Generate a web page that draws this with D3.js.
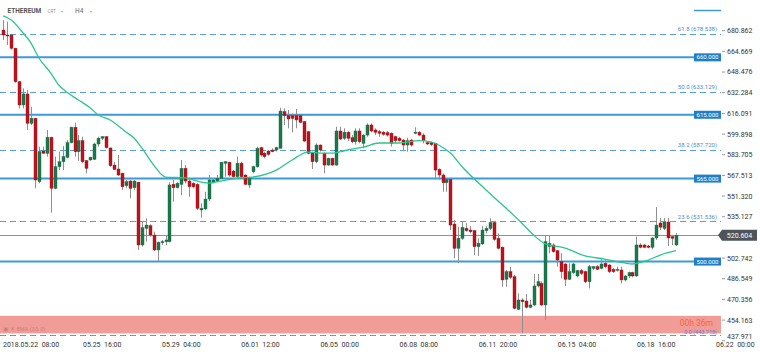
<!DOCTYPE html>
<html><head><meta charset="utf-8">
<script src="https://cdn.jsdelivr.net/npm/d3@7"></script>
<style>
html,body{margin:0;padding:0;background:#fff;}
svg{display:block;font-family:"Roboto","Liberation Sans",Arial,sans-serif;}
</style></head>
<body>
<svg id="chart" width="760" height="354"></svg>
<script>
// ---- DATA ----
const symbol = "ETHEREUM";
const timeframe = "H4";
// candles: [open, high, low, close] (H4 bars, consecutive)
const ohlc = [
[681.4,689.0,673.6,677.5],[677.5,687.9,669.6,677.0],[677.5,678.3,666.0,667.1],[667.1,667.5,640.0,640.9],
[640.9,641.5,620.0,622.7],[622.7,635.7,620.1,631.3],[631.3,634.4,603.1,608.3],[608.3,621.3,607.0,612.2],
[612.2,612.5,557.4,563.9],[562.6,590.0,561.3,586.1],[586.6,590.0,584.5,584.8],[584.8,603.1,582.2,597.3],
[597.3,597.8,538.3,557.4],[557.4,582.2,556.6,574.3],[574.3,586.1,571.7,578.2],[578.2,590.5,571.7,582.2],
[581.7,595.2,580.9,593.1],[593.1,605.7,592.6,605.2],[605.2,608.8,582.2,586.1],[586.1,599.1,579.0,594.7],
[594.7,597.8,576.9,578.2],[579.0,579.6,569.1,573.0],[579.6,582.2,579.0,581.7],[580.1,593.1,579.6,592.1],
[592.1,597.8,590.0,596.6],[596.6,598.4,595.2,597.8],[597.8,598.4,588.7,589.2],[589.0,589.2,574.3,575.1],
[575.6,578.2,571.7,572.2],[572.5,583.5,567.0,567.8],[569.1,569.6,556.1,558.6],[559.4,563.9,557.4,562.6],
[563.1,563.9,549.5,557.4],[557.9,563.9,556.1,563.1],[562.1,562.6,509.1,513.0],[513.0,531.2,511.7,526.5],
[526.0,533.9,515.6,528.6],[528.1,529.2,519.5,520.8],[520.8,523.4,508.3,509.1],[509.1,515.6,499.9,515.1],
[515.1,516.9,513.0,515.6],[515.6,520.3,513.0,516.9],[515.6,562.1,515.0,560.0],[560.5,563.9,546.9,557.9],
[557.9,562.1,557.4,561.3],[560.5,579.6,552.1,573.0],[573.0,575.6,561.3,563.1],[563.1,565.2,550.8,558.6],
[561.3,562.1,557.4,558.6],[560.5,561.3,540.4,541.7],[540.4,545.6,534.4,541.7],[541.2,554.7,540.4,549.0],
[549.0,567.8,547.5,563.9],[562.1,565.2,561.3,563.9],[563.1,567.8,562.6,565.2],[565.2,578.2,564.7,577.8],
[577.0,578.7,566.5,578.2],[577.8,578.2,566.5,567.8],[570.9,571.7,565.7,566.5],[566.5,582.2,565.2,577.0],
[577.0,578.2,565.2,566.5],[567.8,568.3,560.0,560.5],[560.0,566.5,557.4,565.7],[570.4,575.1,569.1,574.3],
[574.3,590.0,573.5,588.7],[589.2,590.0,582.2,583.5],[584.8,586.1,580.9,582.2],[586.6,587.4,582.9,584.0],
[587.4,588.7,585.6,586.1],[587.4,590.0,586.1,589.2],[588.7,620.5,588.7,617.9],[617.4,620.0,607.0,614.3],
[614.3,618.7,604.4,611.7],[614.3,616.1,601.2,612.2],[614.3,619.5,604.4,610.9],[614.3,614.8,608.3,609.1],
[609.6,610.1,593.9,594.4],[601.7,602.3,584.0,584.8],[585.6,586.1,572.5,578.2],[578.2,592.6,576.9,591.3],
[591.3,591.8,586.1,587.4],[584.8,585.6,569.1,575.6],[575.6,581.4,575.1,580.9],[580.9,581.4,575.1,575.6],
[575.6,605.7,575.1,602.3],[602.3,605.7,595.2,596.0],[596.6,604.4,595.2,601.3],[601.3,602.3,594.4,596.6],
[597.0,599.1,592.6,593.9],[593.9,604.4,591.8,602.3],[602.3,604.4,592.6,593.9],[592.6,599.7,588.7,599.1],
[599.1,608.3,597.8,607.0],[607.0,608.3,601.2,602.3],[603.1,604.4,599.1,601.3],[601.7,603.1,597.8,600.5],
[601.3,602.3,598.6,599.7],[600.9,602.3,598.0,599.1],[600.5,601.2,590.0,592.6],[597.8,598.6,592.6,594.7],
[596.6,597.8,593.9,594.7],[595.2,596.0,586.9,591.3],[591.3,597.0,586.1,594.7],[595.2,596.0,590.0,591.3],
[600.5,605.2,599.7,601.3],[601.3,602.3,598.3,599.1],[599.1,600.5,592.6,594.7],[593.1,593.9,591.3,592.1],
[593.1,594.0,590.5,591.7],[592.6,593.1,565.2,571.7],[572.2,573.0,564.4,567.8],[567.8,569.1,554.7,561.8],
[561.8,564.9,554.7,564.4],[564.4,564.4,524.7,528.6],[529.4,532.6,502.6,510.4],[510.4,527.3,498.6,518.2],
[518.2,531.2,516.9,526.8],[526.0,530.0,523.4,524.2],[524.7,527.8,522.1,523.4],[524.2,524.7,505.1,511.7],
[511.7,518.2,504.4,514.3],[513.8,527.8,513.0,524.7],[524.2,527.8,522.1,526.0],[526.0,533.9,524.7,530.5],
[530.5,531.2,516.3,517.4],[518.2,522.1,509.6,510.4],[511.2,511.7,480.3,485.6],[486.1,493.4,480.3,492.1],
[492.1,496.0,486.1,487.7],[488.1,489.5,462.6,463.4],[462.6,475.1,462.1,469.9],[469.9,471.2,443.8,468.6],
[469.1,474.6,463.4,464.2],[464.2,469.9,463.4,466.0],[466.0,490.3,465.2,480.9],[480.9,490.3,479.8,484.3],
[483.0,484.5,465.0,466.0],[466.0,520.8,454.2,515.6],[511.7,520.8,506.5,514.3],[513.0,514.3,507.0,507.8],
[508.5,509.1,496.0,501.2],[500.0,506.5,486.9,492.1],[498.1,498.6,480.9,486.1],[486.1,498.6,485.6,492.1],
[491.3,499.1,490.3,498.1],[488.7,493.4,487.7,492.9],[492.9,494.0,489.5,490.8],[492.1,492.9,483.0,484.2],
[484.2,497.3,479.0,496.0],[494.7,496.5,493.4,496.0],[496.0,497.3,493.4,494.0],[494.7,501.8,493.9,498.1],
[498.6,501.2,494.7,496.0],[497.3,498.1,490.8,492.1],[493.9,495.0,491.0,492.1],[493.4,496.0,492.1,493.9],
[493.4,496.0,483.0,485.6],[485.6,489.5,484.3,488.7],[488.7,492.1,486.9,491.3],[491.3,492.1,487.7,488.7],
[488.7,519.5,488.1,513.0],[513.0,514.3,510.4,511.2],[513.0,513.5,510.4,511.2],[512.2,513.0,510.4,511.2],
[511.2,518.9,509.6,518.5],[518.5,542.7,516.9,528.6],[530.2,534.1,524.7,527.0],[526.0,534.1,524.7,531.0],
[531.0,534.1,512.2,518.5],[519.5,520.8,513.0,518.2],[513.0,522.3,512.2,520.6]
];
// EMA(33): [bar index, value]
const emaPoints = [
[0,692.4],[2,689.2],[5,679.1],[7,671.2],[9,659.5],[12,647.7],[14,638.3],[16,632.8],[19,626.6],
[22,620.3],[24,614.8],[27,610.9],[31,601.5],[33,596.8],[35,589.0],[38,575.6],[41,566.2],[46,565.5],
[50,562.3],[52,561.5],[55,563.1],[60,565.5],[63,566.2],[69,571.7],[73,579.6],[77,585.8],[81,585.0],
[83,585.0],[87,587.4],[91,589.7],[95,592.9],[100,592.9],[105,594.7],[108,593.7],[110,591.3],
[113,585.0],[116,574.1],[122,556.1],[127,542.0],[131,530.2],[134,520.8],[137,513.8],[142,510.6],
[147,504.4],[152,502.0],[157,498.9],[159,498.1],[163,501.2],[166,505.1],[170,508.5]
];
const xTickLabels = ["2018.05.22  08:00","05.25  16:00","05.29  04:00","06.01  12:00","06.05  00:00",
  "06.08  08:00","06.11  20:00","06.15  04:00","06.18  16:00","06.22  00:00"];
const xTickBars = [5,25,45,65,85,105,125,145,165,185];
const yTicks = [680.862,664.669,648.476,632.284,616.091,599.898,583.705,567.513,551.320,535.127,
  518.934,502.742,486.549,470.356,454.163,437.971];
const levels = [660, 615, 565, 500];
const fibPct = ["61.8","50.0","38.2","23.6","0.0"];
const fibVal = [678.538, 633.129, 587.720, 531.536, 443.718];
const lastPrice = 520.604;
const zone = [443.718, 457.5];
const countdown = "00h 36m";
const indicatorLabel = "\u25A3 \u2715 EMA (33, 0)";

// ---- SCALES ----
const svg = d3.select("#chart");
const plotRight = 721;
const x = d3.scaleLinear().domain([0, ohlc.length - 1]).range([3.3, 676]);
const y = d3.scaleLinear().domain([437.971, 680.862]).range([340.75, 30.7]);
const fmt = d3.format(".3f");

const plot = svg.append("g");

// zone band
plot.append("rect").attr("x", 0).attr("width", plotRight)
  .attr("y", y(zone[1])).attr("height", y(zone[0]) - y(zone[1]))
  .attr("fill", "#f29c98");

// fib dashed lines
fibVal.forEach((v, i) => {
  const last = i === fibVal.length - 1;
  const ly = Math.round(y(v)) + (last ? 2.5 : 0.5);
  plot.append("line").attr("x1", 0).attr("x2", plotRight)
    .attr("y1", ly).attr("y2", ly)
    .attr("stroke", "#5b9fd8").attr("stroke-width", 1).attr("stroke-dasharray", "6,4");
  plot.append("text").attr("x", 717).attr("y", last ? ly - 2 : y(v) - 2.5)
    .attr("text-anchor", "end").attr("font-size", last ? 5.5 : 6)
    .attr("fill", last ? "#6a78c8" : "#4f8cc9")
    .text(fibPct[i] + " (" + fmt(v) + ")");
});

// solid levels
levels.forEach(v => {
  plot.append("line").attr("x1", 0).attr("x2", plotRight)
    .attr("y1", y(v)).attr("y2", y(v))
    .attr("stroke", "#3d9ad8").attr("stroke-width", 2);
});

// last price line
plot.append("line").attr("x1", 0).attr("x2", plotRight)
  .attr("y1", Math.round(y(lastPrice)) + 0.5).attr("y2", Math.round(y(lastPrice)) + 0.5)
  .attr("stroke", "#8a9396").attr("stroke-width", 1);

// candles
const cg = plot.append("g");
const bw = 3;
ohlc.forEach((d, i) => {
  const [o, h, l, c] = d;
  const cx = Math.round(x(i)) + 0.5;
  const up = c >= o;
  cg.append("line").attr("x1", cx).attr("x2", cx).attr("y1", y(h)).attr("y2", y(l))
    .attr("stroke", "#8f8f8f").attr("stroke-width", 1);
  const top = y(Math.max(o, c)), bot = y(Math.min(o, c));
  cg.append("rect").attr("x", cx - bw / 2).attr("width", bw)
    .attr("y", top).attr("height", Math.max(1, bot - top))
    .attr("fill", up ? "#1a7a4c" : "#c1121c")
    .attr("stroke", up ? "#17603d" : "#8e0f14").attr("stroke-width", 0.4);
});

// EMA
plot.append("path").datum(emaPoints)
  .attr("d", d3.line().x(d => x(d[0])).y(d => y(d[1])).curve(d3.curveMonotoneX))
  .attr("fill", "none").attr("stroke", "#2cc58c").attr("stroke-width", 1.3);

// level label boxes
levels.forEach(v => {
  plot.append("rect").attr("x", 694).attr("y", y(v) - 4).attr("width", 27).attr("height", 8)
    .attr("fill", "#1f80c8");
  plot.append("text").attr("x", 707.5).attr("y", y(v) + 2.1).attr("text-anchor", "middle")
    .attr("font-size", 6).attr("fill", "#fff").text(fmt(v));
});

// countdown & indicator text
plot.append("text").attr("x", 713).attr("y", 326).attr("text-anchor", "end")
  .attr("font-size", 8.5).attr("fill", "#f26a3c").text(countdown);
plot.append("text").attr("x", 3).attr("y", y(zone[0]) - 2)
  .attr("font-size", 5.5).attr("fill", "#c98080").text(indicatorLabel);

// right axis
const ra = svg.append("g");
yTicks.forEach(v => {
  if (Math.abs(v - lastPrice) < 8) return;
  const yy = Math.min(y(v), 336.5);
  ra.append("line").attr("x1", 722).attr("x2", 725).attr("y1", y(v)).attr("y2", y(v))
    .attr("stroke", "#999");
  ra.append("text").attr("x", 727).attr("y", yy).attr("dy", "0.35em")
    .attr("font-size", 7).attr("fill", "#333").text(fmt(v));
});
// last price tag
const ly = y(lastPrice);
ra.append("path")
  .attr("d", `M718,${ly} L722,${ly - 5.5} L757,${ly - 5.5} L757,${ly + 5.5} L722,${ly + 5.5} Z`)
  .attr("fill", "#4b555a");
ra.append("text").attr("x", 739.5).attr("y", ly).attr("dy", "0.35em").attr("text-anchor", "middle")
  .attr("font-size", 7).attr("fill", "#fff").text(fmt(lastPrice));

// bottom axis
const ba = svg.append("g");
xTickBars.forEach((b, i) => {
  const px = x(b);
  const t = ba.append("text").attr("y", 346.5).attr("font-size", 7).attr("fill", "#333")
    .attr("xml:space", "preserve").text(xTickLabels[i]);
  if (i === 0) t.attr("x", 3); else t.attr("x", px).attr("text-anchor", "middle");
});

// header
const hd = svg.append("g");
hd.append("text").attr("x", 7.5).attr("y", 13).attr("font-size", 6.5).attr("font-weight", "bold")
  .attr("fill", "#555").text(symbol);
hd.append("text").attr("x", 47.5).attr("y", 12.5).attr("font-size", 4.5).attr("fill", "#999").text("CRT");
hd.append("text").attr("x", 61).attr("y", 12.5).attr("font-size", 4).attr("fill", "#aaa").text("\u25BE");
hd.append("text").attr("x", 75).attr("y", 13).attr("font-size", 6.5).attr("fill", "#666").text(timeframe);
hd.append("text").attr("x", 90).attr("y", 12.5).attr("font-size", 4).attr("fill", "#aaa").text("\u25BE");
hd.append("line").attr("x1", 694).attr("x2", 721).attr("y1", 10.5).attr("y2", 10.5)
  .attr("stroke", "#3d9ad8").attr("stroke-width", 1.5);
</script>
</body></html>
